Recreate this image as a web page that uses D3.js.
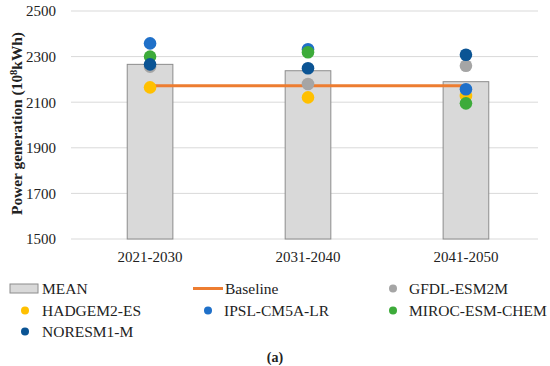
<!DOCTYPE html>
<html>
<head>
<meta charset="utf-8">
<script src="https://cdn.jsdelivr.net/npm/d3@7"></script>
<style>
  body { margin: 0; background: #fff; }
  svg text { font-family: "Liberation Serif", "DejaVu Serif", serif; }
</style>
</head>
<body>
<div id="chart"></div>
<script>
const periods = ["2021-2030", "2031-2040", "2041-2050"];
const meanValues = [2266, 2238, 2190];
const baselineValue = 2172;
const models = ["GFDL-ESM2M", "HADGEM2-ES", "IPSL-CM5A-LR", "MIROC-ESM-CHEM", "NORESM1-M"];
const gfdl = [2256, 2180, 2260];
const hadgem = [2165, 2121, 2127];
const ipsl = [2358, 2332, 2157];
const miroc = [2300, 2319, 2095];
const noresm = [2266, 2249, 2308];
const yTicks = [1500, 1700, 1900, 2100, 2300, 2500];

const modelValues = [gfdl, hadgem, ipsl, miroc, noresm];
const modelColors = ["#a5a5a5", "#ffc000", "#1f70c9", "#3dab3a", "#0b5494"];
const serif = "Liberation Serif, DejaVu Serif, serif";

function chart () {
    const width = 550;
    const height = 366;
    const margin = { top: 11, right: 5, bottom: 127, left: 71 };
    const boundedwidth = width - margin.left - margin.right;
    const boundedheight = height - margin.top - margin.bottom;

    const xScale = d3.scaleBand().domain(periods).range([0, boundedwidth]).paddingInner(0.711).paddingOuter(0.356);
    const yScale = d3.scaleLinear().domain([1500, 2500]).range([boundedheight, 0]);

    const svg = d3.select("#chart").append("svg")
        .attr("width", width)
        .attr("height", height);

    const g = svg.append("g")
        .attr("transform", "translate(" + margin.left + "," + margin.top + ")");

    // gridlines
    g.selectAll(".grid").data(yTicks).join("line")
        .attr("x1", 0).attr("x2", boundedwidth - 7)
        .attr("y1", d => yScale(d)).attr("y2", d => yScale(d))
        .attr("stroke", "#d9d9d9").attr("stroke-width", 1);

    // y axis labels
    const yAxis = d3.axisLeft(yScale).tickValues(yTicks).tickSize(0).tickPadding(15).tickFormat(d3.format("d"));
    g.append("g").call(yAxis)
        .attr("font-family", serif)
        .call(a => a.select(".domain").remove())
        .selectAll("text").attr("font-size", 15).attr("fill", "#222");

    // x axis labels
    const xAxis = d3.axisBottom(xScale).tickSize(0).tickPadding(12);
    g.append("g").attr("transform", "translate(0," + boundedheight + ")").call(xAxis)
        .attr("font-family", serif)
        .call(a => a.select(".domain").remove())
        .selectAll("text").attr("font-size", 15).attr("fill", "#222");

    // bars
    g.selectAll(".bar").data(meanValues).join("rect")
        .attr("x", (d, i) => xScale(periods[i]))
        .attr("y", d => yScale(d))
        .attr("width", xScale.bandwidth())
        .attr("height", d => boundedheight - yScale(d))
        .attr("fill", "#d9d9d9")
        .attr("stroke", "#8c8c8c")
        .attr("stroke-width", 1);

    // baseline
    const cx = p => xScale(p) + xScale.bandwidth() / 2;
    g.append("line")
        .attr("x1", cx(periods[0])).attr("x2", cx(periods[periods.length - 1]))
        .attr("y1", yScale(baselineValue)).attr("y2", yScale(baselineValue))
        .attr("stroke", "#ed7d31").attr("stroke-width", 3);

    // model points
    modelValues.forEach((vals, m) => {
        g.selectAll(".pt" + m).data(vals).join("circle")
            .attr("cx", (d, i) => cx(periods[i]))
            .attr("cy", d => yScale(d))
            .attr("r", 6.3)
            .attr("fill", modelColors[m]);
    });

    // y title, stretched to the original's length
    const title = svg.append("text")
        .attr("transform", "translate(22,215) rotate(-90)")
        .attr("textLength", 183).attr("lengthAdjust", "spacingAndGlyphs")
        .attr("font-size", 14).attr("font-weight", "bold").attr("fill", "#222")
        .attr("font-family", serif);
    title.append("tspan").text("Power generation (10");
    title.append("tspan").attr("dy", -5).attr("font-size", 9.5).text("8");
    title.append("tspan").attr("dy", 5).text("kWh)");

    // legend
    const cols = [
        { sym: 10, dot: 25, text: 42 },
        { sym: 193, dot: 208, text: 224 },
        { sym: 378, dot: 393, text: 409 }
    ];
    const rows = [288.5, 310.5, 331.5];
    const legend = svg.append("g").attr("font-family", serif);
    const items = [
        { name: "MEAN", type: "bar" },
        { name: "Baseline", type: "line" },
        { name: models[0], type: "dot", color: modelColors[0] },
        { name: models[1], type: "dot", color: modelColors[1] },
        { name: models[2], type: "dot", color: modelColors[2] },
        { name: models[3], type: "dot", color: modelColors[3] },
        { name: models[4], type: "dot", color: modelColors[4] }
    ];
    items.forEach((it, i) => {
        const c = cols[i % 3];
        const y = rows[Math.floor(i / 3)];
        let tx = c.text;
        if (it.type === "bar") {
            legend.append("rect").attr("x", c.sym).attr("y", y - 4.5).attr("width", 28).attr("height", 9)
                .attr("fill", "#d9d9d9").attr("stroke", "#8c8c8c");
            tx = c.sym + 32;
        } else if (it.type === "line") {
            legend.append("line").attr("x1", c.sym).attr("x2", c.sym + 30).attr("y1", y).attr("y2", y)
                .attr("stroke", "#ed7d31").attr("stroke-width", 3);
            tx = c.sym + 32;
        } else {
            legend.append("circle").attr("cx", c.dot).attr("cy", y).attr("r", 4).attr("fill", it.color);
        }
        legend.append("text").attr("x", tx).attr("y", y + 5.5)
            .attr("font-size", 15.5).attr("fill", "#222").text(it.name);
    });

    svg.append("text")
        .attr("x", 275).attr("y", 362)
        .attr("text-anchor", "middle")
        .attr("font-family", serif)
        .attr("font-size", 14).attr("font-weight", "bold").attr("fill", "#222")
        .text("(a)");
}
chart();
</script>
</body>
</html>
